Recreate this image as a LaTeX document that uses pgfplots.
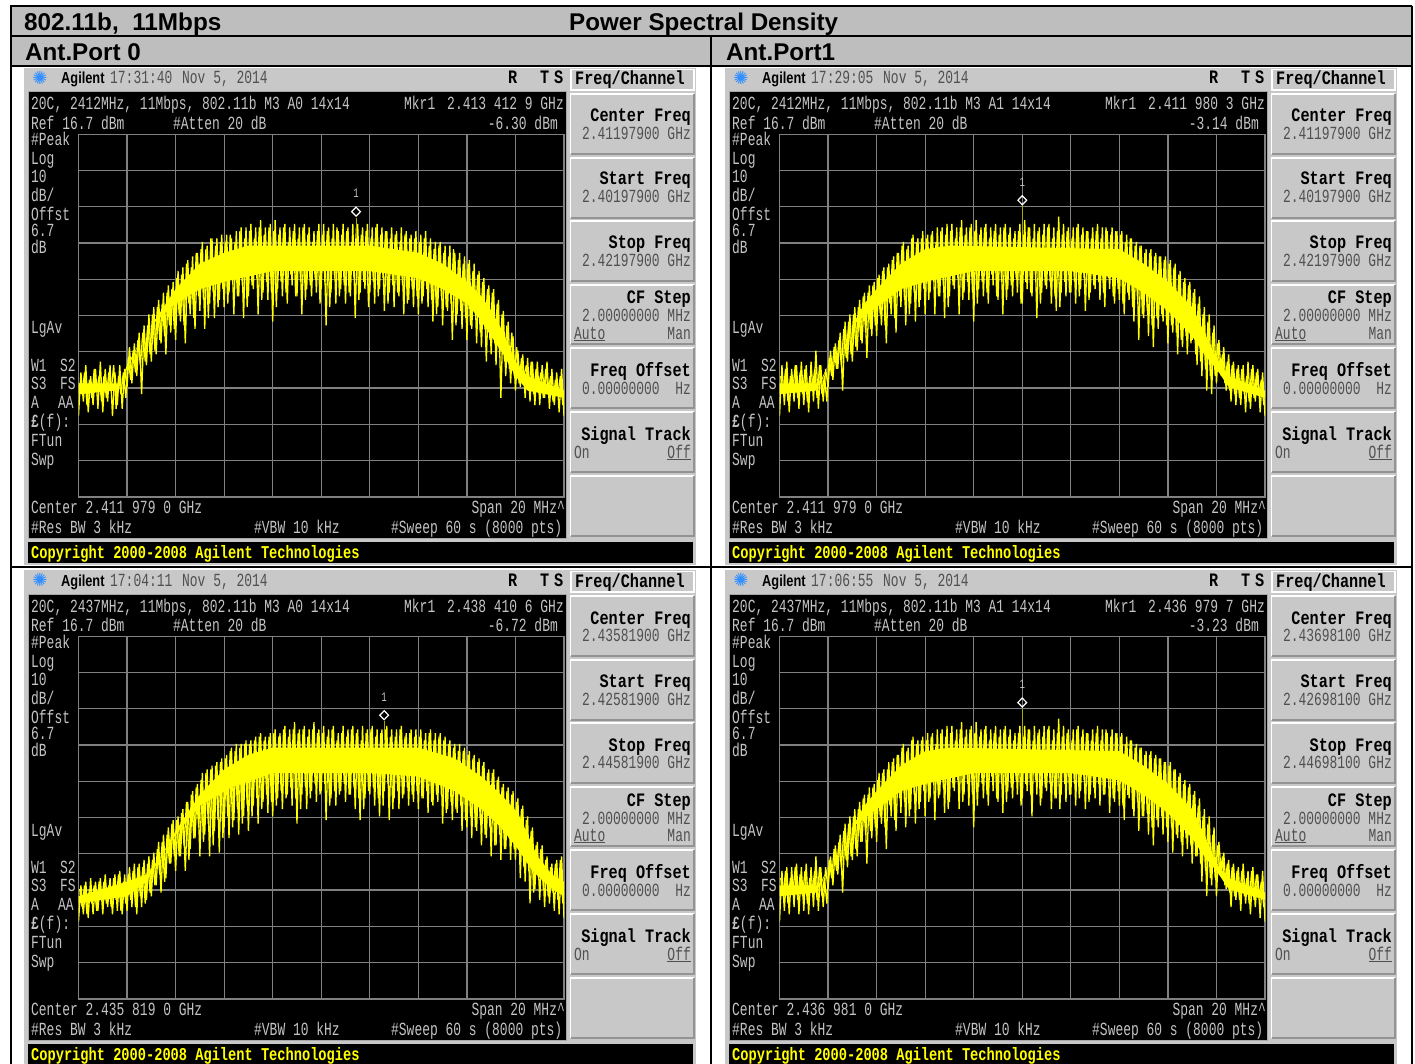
\documentclass[border=0pt]{standalone}
\usepackage{fontspec}
\usepackage{pgfplots}
\usepackage{pgfplotstable}
\pgfplotsset{compat=1.18}
\setmainfont{Liberation Sans}
\newfontfamily\monf[FakeStretch=0.70]{Liberation Mono}
\newfontfamily\monk[FakeStretch=0.80]{Liberation Mono}
\newfontfamily\monc[FakeStretch=0.76]{Liberation Mono}
\newfontfamily\agf[FakeStretch=0.80]{Liberation Sans}
\newfontfamily\sym{DejaVu Sans}
\definecolor{bez}{HTML}{C8C8C8}
\definecolor{hdr}{HTML}{BEBEBE}
\definecolor{scr}{HTML}{C4C4C4}
\definecolor{val}{HTML}{505050}
\definecolor{gridc}{HTML}{808080}
\definecolor{oliv}{HTML}{A8A800}
\definecolor{yel}{HTML}{FFFF00}
\newcommand\M{\fontsize{18.5}{18.5}\selectfont\monf}
\newcommand\K{\fontsize{19}{19}\selectfont\monk\bfseries}
\newcommand\T[4]{\node[anchor=base west,inner sep=0pt,text=#1] at (#2,#3) {#4};}
\newcommand\Rt[4]{\node[anchor=base east,inner sep=0pt,text=#1] at (#2,#3) {#4};}
\newcommand\Btn[2]{\fill[bez] (570.5,#1) rectangle (694,#2);
  \draw[white,line width=1.5pt] (570.5,#2)--(570.5,#1)--(694,#1);
  \draw[gray!85,line width=2pt] (570.5,#2)--(694,#2)--(694,#1);}

\pgfplotstableread[row sep=\\,header=false]{
-61\\-49\\-57\\-47\\-60\\-50\\-58\\-48\\-59\\-46\\
-60\\-48\\-57\\-47\\-61\\-49\\-58\\-47\\-59\\-48\\
-53\\-42\\-52\\-41\\-50\\-38\\-55\\-36\\-47\\-33\\
-46\\-31\\-44\\-29\\-41\\-27\\-44\\-25\\-38\\-24\\
-40\\-21\\-35\\-20\\-41\\-18\\-33\\-17\\-37\\-16\\
-32\\-13\\-37\\-14\\-30\\-12\\-34\\-12\\-29\\-11\\
-31\\-11\\-27\\-12\\-33\\-10\\-28\\-9\\-34\\-9\\
-28\\-8\\-26\\-9\\-33\\-7\\-27\\-9\\-29\\-8\\
-35\\-7\\-26\\-9\\-28\\-8\\-30\\-9\\-25\\-8\\
-28\\-9\\-33\\-8\\-26\\-9\\-28\\-10\\-27\\-8\\
-26\\-8\\-36\\-9\\-27\\-8\\-30\\-10\\-26\\-8\\
-30\\-9\\-28\\-8\\-34\\-8\\-27\\-9\\-26\\-8\\
-27\\-9\\-30\\-8\\-26\\-9\\-32\\-10\\-27\\-9\\
-31\\-10\\-28\\-9\\-33\\-10\\-29\\-11\\-31\\-10\\
-33\\-11\\-28\\-10\\-31\\-12\\-35\\-13\\-31\\-13\\
-36\\-14\\-32\\-14\\-40\\-16\\-33\\-16\\-37\\-17\\
-40\\-18\\-37\\-19\\-41\\-21\\-42\\-23\\-46\\-25\\
-44\\-26\\-47\\-29\\-56\\-32\\-50\\-35\\-52\\-39\\
-54\\-43\\-53\\-44\\-56\\-45\\-57\\-46\\-58\\-46\\
-58\\-47\\-56\\-46\\-59\\-48\\-58\\-49\\-60\\-48\\
-61\\}\tracea
\pgfplotstableread[row sep=\\,header=false]{
-61\\-47\\-58\\-46\\-60\\-48\\-57\\-47\\-59\\-46\\
-58\\-47\\-60\\-46\\-57\\-43\\-59\\-47\\-57\\-48\\
-53\\-43\\-51\\-41\\-48\\-38\\-54\\-35\\-46\\-33\\
-46\\-31\\-43\\-29\\-41\\-27\\-45\\-25\\-39\\-24\\
-39\\-22\\-36\\-20\\-41\\-19\\-33\\-17\\-38\\-16\\
-31\\-13\\-36\\-14\\-30\\-11\\-35\\-12\\-29\\-10\\
-33\\-11\\-27\\-10\\-33\\-9\\-28\\-9\\-34\\-8\\
-28\\-8\\-26\\-9\\-33\\-7\\-27\\-9\\-29\\-8\\
-35\\-7\\-26\\-9\\-28\\-8\\-30\\-9\\-25\\-8\\
-29\\-9\\-33\\-8\\-26\\-9\\-28\\-10\\-27\\-8\\
-30\\-7\\-26\\-9\\-28\\-8\\-34\\-9\\-27\\-8\\
-26\\-8\\-30\\-9\\-32\\-6\\-27\\-8\\-28\\-9\\
-27\\-9\\-30\\-8\\-26\\-9\\-32\\-10\\-27\\-9\\
-26\\-8\\-29\\-9\\-31\\-10\\-26\\-9\\-30\\-10\\
-29\\-10\\-33\\-11\\-29\\-12\\-35\\-13\\-40\\-14\\
-34\\-15\\-39\\-15\\-42\\-16\\-37\\-17\\-35\\-17\\
-41\\-18\\-38\\-19\\-44\\-21\\-42\\-23\\-44\\-24\\
-40\\-26\\-47\\-28\\-50\\-31\\-54\\-33\\-55\\-36\\
-52\\-40\\-50\\-42\\-54\\-44\\-57\\-46\\-58\\-47\\
-58\\-47\\-60\\-46\\-59\\-47\\-57\\-48\\-60\\-49\\
-61\\}\traceb
\pgfplotstableread[row sep=\\,header=false]{
-62\\-52\\-60\\-51\\-61\\-50\\-60\\-51\\-59\\-50\\
-60\\-49\\-58\\-50\\-60\\-49\\-59\\-48\\-60\\-49\\
-59\\-47\\-58\\-46\\-60\\-46\\-58\\-45\\-56\\-44\\
-55\\-43\\-52\\-40\\-54\\-38\\-50\\-36\\-46\\-34\\
-48\\-33\\-44\\-31\\-48\\-29\\-42\\-26\\-39\\-24\\
-44\\-21\\-38\\-20\\-44\\-19\\-37\\-18\\-43\\-17\\
-36\\-16\\-39\\-14\\-34\\-13\\-38\\-13\\-33\\-12\\
-37\\-12\\-30\\-11\\-35\\-10\\-29\\-11\\-32\\-10\\
-33\\-9\\-28\\-10\\-31\\-8\\-27\\-9\\-30\\-7\\
-35\\-9\\-27\\-8\\-31\\-9\\-26\\-7\\-29\\-9\\
-26\\-8\\-34\\-9\\-28\\-8\\-30\\-10\\-26\\-8\\
-29\\-9\\-27\\-8\\-31\\-9\\-34\\-8\\-28\\-9\\
-27\\-8\\-30\\-9\\-33\\-9\\-26\\-8\\-34\\-9\\
-28\\-9\\-31\\-8\\-27\\-10\\-30\\-9\\-29\\-9\\
-31\\-9\\-28\\-10\\-32\\-9\\-30\\-10\\-29\\-10\\
-35\\-11\\-31\\-12\\-34\\-13\\-32\\-13\\-37\\-14\\
-36\\-15\\-39\\-16\\-37\\-17\\-41\\-18\\-39\\-20\\
-44\\-20\\-41\\-22\\-45\\-24\\-42\\-25\\-45\\-26\\
-45\\-28\\-50\\-30\\-51\\-33\\-57\\-36\\-53\\-40\\
-56\\-41\\-58\\-44\\-57\\-46\\-59\\-45\\-60\\-44\\
-61\\}\tracec
\pgfplotstableread[row sep=\\,header=false]{
-62\\-48\\-59\\-47\\-60\\-47\\-58\\-46\\-60\\-47\\
-59\\-46\\-60\\-47\\-58\\-44\\-59\\-47\\-58\\-47\\
-53\\-44\\-52\\-41\\-49\\-38\\-54\\-35\\-47\\-33\\
-45\\-31\\-44\\-29\\-40\\-27\\-46\\-25\\-39\\-24\\
-40\\-21\\-35\\-20\\-42\\-18\\-33\\-17\\-37\\-16\\
-32\\-13\\-36\\-14\\-31\\-11\\-35\\-12\\-29\\-11\\
-33\\-10\\-28\\-10\\-34\\-9\\-27\\-9\\-32\\-8\\
-29\\-8\\-26\\-9\\-31\\-7\\-27\\-9\\-30\\-8\\
-36\\-7\\-25\\-9\\-28\\-8\\-30\\-9\\-26\\-8\\
-29\\-9\\-32\\-8\\-26\\-9\\-28\\-10\\-27\\-8\\
-28\\-8\\-26\\-9\\-33\\-8\\-27\\-9\\-28\\-8\\
-26\\-8\\-31\\-9\\-28\\-6\\-27\\-8\\-29\\-9\\
-27\\-9\\-30\\-8\\-26\\-9\\-31\\-10\\-27\\-9\\
-28\\-8\\-30\\-9\\-27\\-10\\-32\\-9\\-29\\-10\\
-30\\-10\\-34\\-11\\-28\\-12\\-33\\-13\\-37\\-14\\
-33\\-15\\-38\\-15\\-41\\-16\\-36\\-17\\-38\\-18\\
-40\\-18\\-43\\-20\\-39\\-21\\-44\\-23\\-42\\-24\\
-46\\-26\\-44\\-28\\-51\\-31\\-55\\-33\\-52\\-36\\
-55\\-40\\-49\\-43\\-53\\-45\\-58\\-46\\-56\\-47\\
-59\\-46\\-57\\-48\\-60\\-47\\-58\\-49\\-61\\-48\\
-62\\}\traced
% second passes, sampled halfway between the points above
\pgfplotstableread[row sep=\\,header=false]{
-52\\-55\\-49\\-58\\-51\\-56\\-48\\-54\\-50\\-57\\
-50\\-56\\-49\\-54\\-47\\-59\\-50\\-55\\-49\\-56\\
-45\\-51\\-43\\-49\\-40\\-47\\-38\\-46\\-36\\-44\\
-33\\-43\\-31\\-40\\-30\\-39\\-27\\-36\\-26\\-37\\
-23\\-33\\-22\\-36\\-19\\-30\\-20\\-34\\-16\\-28\\
-15\\-29\\-15\\-34\\-12\\-27\\-14\\-31\\-13\\-26\\
-13\\-30\\-11\\-24\\-13\\-28\\-10\\-25\\-12\\-31\\
-10\\-25\\-12\\-23\\-9\\-29\\-11\\-24\\-9\\-27\\
-10\\-31\\-11\\-24\\-9\\-27\\-13\\-22\\-10\\-28\\
-12\\-24\\-9\\-29\\-11\\-25\\-13\\-23\\-10\\-30\\
-11\\-24\\-10\\-31\\-12\\-23\\-9\\-28\\-11\\-25\\
-10\\-27\\-13\\-23\\-9\\-29\\-11\\-24\\-10\\-31\\
-12\\-24\\-9\\-28\\-11\\-23\\-10\\-30\\-12\\-25\\
-11\\-27\\-13\\-25\\-11\\-30\\-12\\-26\\-12\\-28\\
-13\\-30\\-12\\-26\\-14\\-29\\-15\\-33\\-14\\-28\\
-16\\-31\\-17\\-30\\-15\\-36\\-18\\-32\\-19\\-34\\
-19\\-36\\-21\\-33\\-22\\-38\\-24\\-37\\-26\\-40\\
-27\\-41\\-30\\-44\\-33\\-46\\-36\\-48\\-38\\-50\\
-42\\-52\\-45\\-50\\-47\\-54\\-46\\-55\\-48\\-53\\
-49\\-56\\-48\\-54\\-50\\-57\\-51\\-55\\-50\\-58\\
}\tracepa
\pgfplotstableread[row sep=\\,header=false]{
-50\\-55\\-48\\-57\\-50\\-54\\-47\\-56\\-49\\-55\\
-48\\-57\\-50\\-54\\-48\\-56\\-47\\-55\\-50\\-57\\
-45\\-50\\-42\\-48\\-40\\-47\\-37\\-45\\-35\\-44\\
-33\\-42\\-31\\-40\\-28\\-38\\-27\\-37\\-25\\-36\\
-23\\-33\\-21\\-36\\-20\\-30\\-18\\-34\\-16\\-28\\
-14\\-29\\-15\\-33\\-12\\-27\\-13\\-31\\-12\\-26\\
-12\\-29\\-11\\-24\\-13\\-28\\-10\\-25\\-11\\-31\\
-10\\-25\\-12\\-23\\-9\\-29\\-11\\-24\\-9\\-27\\
-10\\-30\\-11\\-24\\-9\\-27\\-12\\-22\\-10\\-28\\
-11\\-24\\-9\\-29\\-11\\-25\\-12\\-23\\-10\\-30\\
-11\\-24\\-9\\-27\\-12\\-23\\-10\\-30\\-11\\-25\\
-9\\-24\\-12\\-28\\-10\\-31\\-11\\-24\\-10\\-27\\
-12\\-24\\-9\\-28\\-11\\-23\\-10\\-29\\-12\\-25\\
-10\\-24\\-12\\-27\\-9\\-23\\-11\\-28\\-10\\-26\\
-11\\-30\\-13\\-27\\-12\\-31\\-14\\-29\\-14\\-33\\
-16\\-32\\-16\\-36\\-17\\-34\\-17\\-33\\-18\\-36\\
-19\\-36\\-20\\-38\\-22\\-40\\-24\\-39\\-25\\-41\\
-27\\-44\\-30\\-46\\-33\\-48\\-35\\-50\\-38\\-50\\
-41\\-49\\-44\\-52\\-46\\-54\\-47\\-55\\-48\\-56\\
-48\\-55\\-50\\-57\\-48\\-56\\-49\\-55\\-51\\-58\\
}\tracepb
\pgfplotstableread[row sep=\\,header=false]{
-53\\-58\\-52\\-60\\-53\\-57\\-52\\-59\\-51\\-56\\
-51\\-57\\-52\\-58\\-50\\-56\\-49\\-59\\-51\\-57\\
-49\\-56\\-48\\-58\\-47\\-55\\-47\\-57\\-46\\-54\\
-45\\-52\\-42\\-49\\-40\\-51\\-38\\-46\\-35\\-44\\
-34\\-44\\-32\\-41\\-29\\-45\\-27\\-39\\-25\\-36\\
-23\\-40\\-21\\-35\\-20\\-41\\-19\\-34\\-18\\-39\\
-17\\-33\\-15\\-36\\-15\\-31\\-14\\-35\\-13\\-30\\
-13\\-33\\-12\\-28\\-11\\-31\\-12\\-27\\-11\\-29\\
-10\\-30\\-11\\-26\\-9\\-28\\-11\\-25\\-9\\-28\\
-10\\-31\\-9\\-25\\-11\\-28\\-9\\-24\\-10\\-27\\
-10\\-24\\-11\\-30\\-9\\-26\\-12\\-27\\-10\\-24\\
-11\\-27\\-9\\-25\\-10\\-28\\-12\\-31\\-10\\-26\\
-9\\-25\\-11\\-28\\-10\\-30\\-9\\-24\\-11\\-31\\
-11\\-26\\-9\\-28\\-11\\-25\\-10\\-27\\-11\\-26\\
-11\\-28\\-12\\-26\\-10\\-29\\-12\\-27\\-11\\-27\\
-12\\-32\\-13\\-29\\-14\\-31\\-15\\-30\\-15\\-34\\
-16\\-33\\-17\\-36\\-18\\-34\\-19\\-38\\-21\\-36\\
-21\\-41\\-23\\-38\\-25\\-42\\-26\\-39\\-27\\-42\\
-29\\-42\\-31\\-47\\-34\\-48\\-37\\-54\\-41\\-50\\
-42\\-53\\-45\\-55\\-47\\-54\\-46\\-56\\-45\\-57\\
}\tracepc

\newcommand\coreA{(-10,-52)(-8.3,-52)(-8,-47)(-7.5,-41)(-7,-36)(-6.5,-31)(-6,-26)(-5,-19)(-4,-16)(-3,-14)(2,-14)(4,-16)(5,-19)(6,-24)(6.6,-28)(7,-32)(7.5,-38)(8,-46)(8.5,-50)(10,-54)(10,-56)(8.5,-54)(8,-50)(7.5,-44)(7,-39)(6.5,-34)(6,-30)(5,-26)(4,-23)(2,-21)(-2,-21)(-4,-24)(-5,-26)(-6,-30)(-7,-36)(-7.5,-41)(-8,-48)(-8.5,-54)(-10,-55)}
\newcommand\coreB{(-10,-52)(-8.3,-52)(-8,-47)(-7.5,-41)(-7,-36)(-6.5,-30)(-6,-26)(-5,-19)(-4,-15)(-3,-14)(4,-15)(5,-19)(6,-24)(7,-31)(7.5,-38)(8,-45)(8.5,-50)(10,-54)(10,-56)(8.5,-53)(8,-48)(7.5,-44)(7,-39)(6,-32)(5,-27)(4,-23)(2,-21)(-2,-21)(-4,-24)(-5,-26)(-6,-31)(-7,-36)(-7.5,-41)(-8,-47)(-8.5,-54)(-10,-55)}
\newcommand\coreC{(-10,-55)(-8,-51)(-7.2,-49)(-6.6,-44)(-6,-37)(-5,-27)(-4,-20)(-3,-16)(-2,-14)(4,-14)(5.5,-17)(6.6,-22)(7.4,-27)(8.1,-32)(8.5,-38)(8.9,-44)(9.5,-49)(10,-51)(10,-55)(9.5,-53)(8.7,-48)(8.1,-42)(7.4,-36)(6.6,-31)(5.5,-26)(4,-22)(2,-21)(-2,-21)(-3.7,-25)(-5,-30)(-6,-38)(-6.6,-44)(-7.2,-51)(-8,-55)(-10,-57)}
\newcommand\coreD{(-10,-52)(-8.3,-52)(-8,-47)(-7.5,-41)(-7,-36)(-6.5,-30)(-6,-26)(-5,-19)(-4,-15)(-3,-14)(4,-15)(5,-19)(6,-24)(7,-31)(7.5,-38)(8,-46)(8.5,-50)(10,-54)(10,-56)(8.5,-53)(8,-48)(7.5,-44)(7,-39)(6,-32)(5,-27)(4,-23)(2,-21)(-2,-21)(-4,-24)(-5,-26)(-6,-31)(-7,-36)(-7.5,-41)(-8,-47)(-8.5,-54)(-10,-55)}

\pgfplotsset{trace/.style={yel,line width=1.3pt,line join=bevel,no marks}}
\newcommand\Panel[9]{%
\begin{scope}[shift={(#1pt,-#2pt)},x=1pt,y=-1pt]
\fill[bez] (24,68) rectangle (696,565);
\node[text=blue!55!cyan!80!white,inner sep=0pt] at (40,78) {\fontsize{18}{18}\selectfont\sym ✺};
\T{black}{61}{84}{\fontsize{16}{16}\selectfont\agf\bfseries Agilent}
\T{val}{110}{84}{\M #3}
\T{val}{182}{84}{\M Nov 5, 2014}
\T{black}{508}{84}{\K R}
\T{black}{540}{84}{\K T}
\T{black}{554}{84}{\K S}
\draw[white,line width=1.5pt,fill=bez] (571,69.5) rectangle (694,90);
\T{black}{575}{85}{\K Freq/Channel}
\fill[black] (28,92) rectangle (566,538);
\draw[gray!70,line width=1pt] (28,92) rectangle (566,538);
\T{scr}{31}{110}{\M #4}
\T{scr}{404}{110}{\M Mkr1}
\Rt{scr}{564}{110}{\M #5}
\T{scr}{31}{129.5}{\M Ref 16.7 dBm}
\T{scr}{173}{129.5}{\M \#Atten 20 dB}
\Rt{scr}{558}{129.5}{\M #6 dBm}
\T{scr}{31}{146}{\M \#Peak}
\T{scr}{31}{165}{\M Log}
\T{scr}{31}{183}{\M 10}
\T{scr}{31}{202}{\M dB/}
\T{scr}{31}{221}{\M Offst}
\T{scr}{31}{237}{\M 6.7}
\T{scr}{31}{254}{\M dB}
\T{scr}{31}{334}{\M LgAv}
\T{scr}{31}{371}{\M W1}\T{scr}{60}{371}{\M S2}
\T{scr}{31}{389}{\M S3}\T{scr}{60}{389}{\M FS}
\T{scr}{31}{408}{\M A}\T{scr}{58}{408}{\M AA}
\T{scr}{31}{427}{\M \textbf{£}(f):}
\T{scr}{31}{446}{\M FTun}
\T{scr}{31}{465}{\M Swp}
\T{scr}{31}{513}{\M Center \bctr\ GHz}
\Rt{scr}{565}{513}{\M Span 20 MHz\^{}}
\T{scr}{31}{533}{\M \#Res BW 3 kHz}
\T{scr}{254}{533}{\M \#VBW 10 kHz}
\T{scr}{391}{533}{\M \#Sweep 60 s (8000 pts)}
\Btn{94}{154}\Btn{158}{218}\Btn{221}{281}\Btn{285}{344}\Btn{348}{408}\Btn{412}{472}\Btn{476}{536}
\Rt{black}{691}{122}{\K Center Freq}
\Rt{val}{691}{139.5}{\M #7 GHz}
\Rt{black}{691}{185}{\K Start Freq}
\Rt{val}{691}{203}{\M #8 GHz}
\Rt{black}{691}{249}{\K Stop Freq}
\Rt{val}{691}{266.5}{\M #9 GHz}
\Rt{black}{691}{304}{\K CF Step}
\Rt{val}{691}{322}{\M 2.00000000 MHz}
\T{val}{574}{339}{\M \underline{Auto}}
\Rt{val}{691}{339}{\M Man}
\Rt{black}{691}{376}{\K Freq Offset}
\Rt{val}{691}{394}{\M 0.00000000 \ Hz}
\Rt{black}{691}{440}{\K Signal Track}
\T{val}{574}{458}{\M On}
\Rt{val}{691}{458}{\M \underline{Off}}
\fill[black] (28,542) rectangle (693,563);
\T{yel}{31}{558.5}{\fontsize{18}{18}\selectfont\monc\bfseries Copyright 2000-2008 Agilent Technologies}
\begin{axis}[at={(78.5pt,-134.3pt)},anchor=north west,scale only axis,width=485.5pt,height=362.5pt,
  xmin=-10,xmax=10,ymin=-83.3,ymax=16.7,
  xtick={-10,-8,-6,-4,-2,0,2,4,6,8,10},ytick={-83.3,-73.3,-63.3,-53.3,-43.3,-33.3,-23.3,-13.3,-3.3,6.7,16.7},
  xticklabels={},yticklabels={},tick style={draw=none},grid=major,
  grid style={gridc,line width=1.2pt},axis line style={gridc,line width=1.4pt},
  clip=true]
\addplot[draw=none,fill=yel] coordinates {\cor} -- cycle;
\drawtrace
\addplot[oliv,line width=1pt,no marks] coordinates {(\mx,\mv)(\mx,-12)};
\addplot[only marks,mark=diamond,mark size=4.5pt,white,line width=1.2pt,mark options={yshift=6pt,xscale=1.3},
  nodes near coords={1},every node near coord/.style={text=scr,anchor=center,yshift=18pt,inner sep=0pt,font=\fontsize{13}{13}\selectfont\monf}]
  coordinates {(\mx,\mv)};
\end{axis}
\end{scope}}

\begin{document}
\begin{tikzpicture}
\useasboundingbox (0,0) rectangle (1415pt,-1064pt);
\clip (0,0) rectangle (1415pt,-1064pt);
\fill[white] (0,0) rectangle (1415pt,-1064pt);
\begin{scope}[x=1pt,y=-1pt]
\fill[hdr] (10,6) rectangle (1412,66);
\draw[black,line width=2pt] (10,6)--(1412,6);
\draw[black,line width=2pt] (10,36)--(1412,36);
\draw[black,line width=2pt] (10,66)--(1412,66);
\node[anchor=base west,inner sep=0pt] at (24,31) {\fontsize{24.3}{24}\selectfont\bfseries 802.11b,\ \ 11Mbps};
\node[anchor=base west,inner sep=0pt] at (569,31) {\fontsize{24.2}{24}\selectfont\bfseries Power Spectral Density};
\node[anchor=base west,inner sep=0pt] at (25,61) {\fontsize{24.2}{24}\selectfont\bfseries Ant.Port 0};
\node[anchor=base west,inner sep=0pt] at (726,61) {\fontsize{24.2}{24}\selectfont\bfseries Ant.Port1};
\end{scope}
\def\bctr{2.411 979 0}\def\mx{1.434}\def\mv{-6.30}\let\cor\coreA
\def\drawtrace{\addplot[trace] table[x expr=\coordindex*0.1-9.95,y index=0] {\tracepa};\addplot[trace] table[x expr=\coordindex*0.1-10,y index=0] {\tracea};}
\Panel{0}{0}{17:31:40}{20C, 2412MHz, 11Mbps, 802.11b M3 A0 14x14}{2.413 412 9 GHz}{-6.30}{2.41197900}{2.40197900}{2.42197900}
\def\bctr{2.411 979 0}\def\mx{0.001}\def\mv{-3.14}\let\cor\coreB
\def\drawtrace{\addplot[trace] table[x expr=\coordindex*0.1-9.95,y index=0] {\tracepb};\addplot[trace] table[x expr=\coordindex*0.1-10,y index=0] {\traceb};}
\Panel{701}{0}{17:29:05}{20C, 2412MHz, 11Mbps, 802.11b M3 A1 14x14}{2.411 980 3 GHz}{-3.14}{2.41197900}{2.40197900}{2.42197900}
\def\bctr{2.435 819 0}\def\mx{2.592}\def\mv{-6.72}\let\cor\coreC
\def\drawtrace{\addplot[trace] table[x expr=\coordindex*0.1-9.95,y index=0] {\tracepc};\addplot[trace] table[x expr=\coordindex*0.1-10,y index=0] {\tracec};}
\Panel{0}{502}{17:04:11}{20C, 2437MHz, 11Mbps, 802.11b M3 A0 14x14}{2.438 410 6 GHz}{-6.72}{2.43581900}{2.42581900}{2.44581900}
\def\bctr{2.436 981 0}\def\mx{-0.001}\def\mv{-3.23}\let\cor\coreD
\def\drawtrace{\addplot[trace] table[x expr=\coordindex*0.1-9.95,y index=0] {\tracepb};\addplot[trace] table[x expr=\coordindex*0.1-10,y index=0] {\traced};}
\Panel{701}{502}{17:06:55}{20C, 2437MHz, 11Mbps, 802.11b M3 A1 14x14}{2.436 979 7 GHz}{-3.23}{2.43698100}{2.42698100}{2.44698100}
\begin{scope}[x=1pt,y=-1pt]
\draw[black,line width=2pt] (11,6)--(11,1064);
\draw[black,line width=2pt] (1412,6)--(1412,1064);
\draw[black,line width=2pt] (711,36)--(711,1064);
\draw[black,line width=2pt] (11,567)--(1412,567);
\end{scope}
\end{tikzpicture}
\end{document}
